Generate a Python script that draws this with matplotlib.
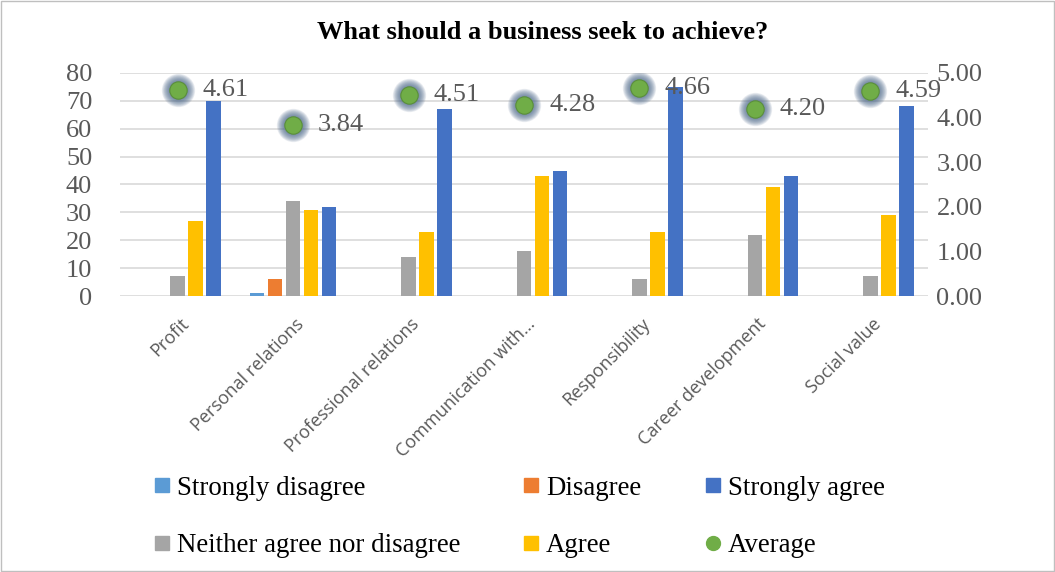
import numpy as np
import matplotlib.pyplot as plt
import matplotlib.transforms as mtransforms
from matplotlib.lines import Line2D
from matplotlib.patches import Rectangle

categories = ["Profit", "Personal relations", "Professional relations",
              "Communication with…", "Responsibility", "Career development",
              "Social value"]
strongly_disagree = [0, 1, 0, 0, 0, 0, 0]
disagree = [0, 6, 0, 0, 0, 0, 0]
neither = [7, 34, 14, 16, 6, 22, 7]
agree = [27, 31, 23, 43, 23, 39, 29]
strongly_agree = [70, 32, 67, 45, 75, 43, 68]
average = [4.61, 3.84, 4.51, 4.28, 4.66, 4.20, 4.59]

series = [("Strongly disagree", strongly_disagree, "#5B9BD5"),
          ("Disagree", disagree, "#ED7D31"),
          ("Neither agree nor disagree", neither, "#A5A5A5"),
          ("Agree", agree, "#FFC000"),
          ("Strongly agree", strongly_agree, "#4472C4")]

serif = ["Liberation Serif", "DejaVu Serif"]
txt = "#595959"

fig = plt.figure(figsize=(10.55, 5.72), dpi=100)
ax = fig.add_axes([0.1137, 0.4825, 0.766, 0.39])
ax2 = ax.twinx()

x = np.arange(len(categories))
step = 0.156
width = 0.125
for i, (name, vals, col) in enumerate(series):
    ax.bar(x + (i - 2) * step, vals, width, color=col, zorder=3)

ax.set_xlim(-0.5, len(categories) - 0.5)
ax.set_ylim(0, 80)
ax.set_yticks(range(0, 81, 10))
ax.grid(axis="y", color="#D9D9D9", linewidth=1.2, zorder=0)
ax.set_axisbelow(True)
for sp in ax.spines.values():
    sp.set_visible(False)
for sp in ax2.spines.values():
    sp.set_visible(False)
ax.tick_params(axis="y", length=0, pad=20, labelcolor=txt)
ax.tick_params(axis="x", length=0, pad=0)
for lab in ax.get_yticklabels():
    lab.set_fontfamily(serif)
    lab.set_fontsize(19)
ax.set_xticks(x)
ax.set_xticklabels(categories, rotation=45, ha="right", va="top",
                   rotation_mode="anchor", fontsize=13, color=txt, family="Open Sans")
shift = mtransforms.ScaledTranslation(2 / 100, -19 / 100, fig.dpi_scale_trans)
for lab in ax.get_xticklabels():
    lab.set_transform(lab.get_transform() + shift)

# average on the secondary axis, with a soft glow under each marker
ax2.set_ylim(0, 5)
ax2.set_yticks(np.arange(0, 5.01, 1))
ax2.set_yticklabels([f"{v:.2f}" for v in np.arange(0, 5.01, 1)])
ax2.tick_params(axis="y", length=0, pad=6, labelcolor=txt)
for lab in ax2.get_yticklabels():
    lab.set_fontfamily(serif)
    lab.set_fontsize(19)
for s in np.linspace(13, 24, 12):
    ax2.plot(x, average, "o", ms=s, color="#4F6A8C", alpha=0.11, mec="none", zorder=4)
ax2.plot(x, average, "o", ms=12.5, color="#70AD47", mec="#5A8F3A", mew=0.8, zorder=5)
for xi, v in zip(x, average):
    ax2.annotate(f"{v:.2f}", (xi, v), xytext=(18, 0), textcoords="offset points",
                 va="center", ha="left", fontsize=19, color=txt, family=serif,
                 zorder=6)

fig.text(0.5147, 0.943, "What should a business seek to achieve?", ha="center",
         va="center", fontsize=19, fontweight="bold", family=serif)

handles = [
    Line2D([], [], marker="s", ls="none", ms=10, color="#5B9BD5"),
    Line2D([], [], marker="s", ls="none", ms=10, color="#A5A5A5"),
    Line2D([], [], marker="s", ls="none", ms=10, color="#ED7D31"),
    Line2D([], [], marker="s", ls="none", ms=10, color="#FFC000"),
    Line2D([], [], marker="s", ls="none", ms=10, color="#4472C4"),
    Line2D([], [], marker="o", ls="none", ms=10, color="#70AD47"),
]
labels = ["Strongly disagree", "Neither agree nor disagree", "Disagree", "Agree",
          "Strongly agree", "Average"]
fig.legend(handles, labels, ncol=3, loc="center left", bbox_to_anchor=(0.124, 0.096),
           frameon=False, prop={"family": serif, "size": 19.4}, handlelength=0.5,
           handletextpad=0.3, columnspacing=2.4, labelspacing=1.2)

fig.add_artist(Rectangle((0.001, 0.001), 0.998, 0.998, transform=fig.transFigure,
                         fill=False, edgecolor="#BFBFBF", linewidth=1))

fig.savefig("out.png", dpi=100)
